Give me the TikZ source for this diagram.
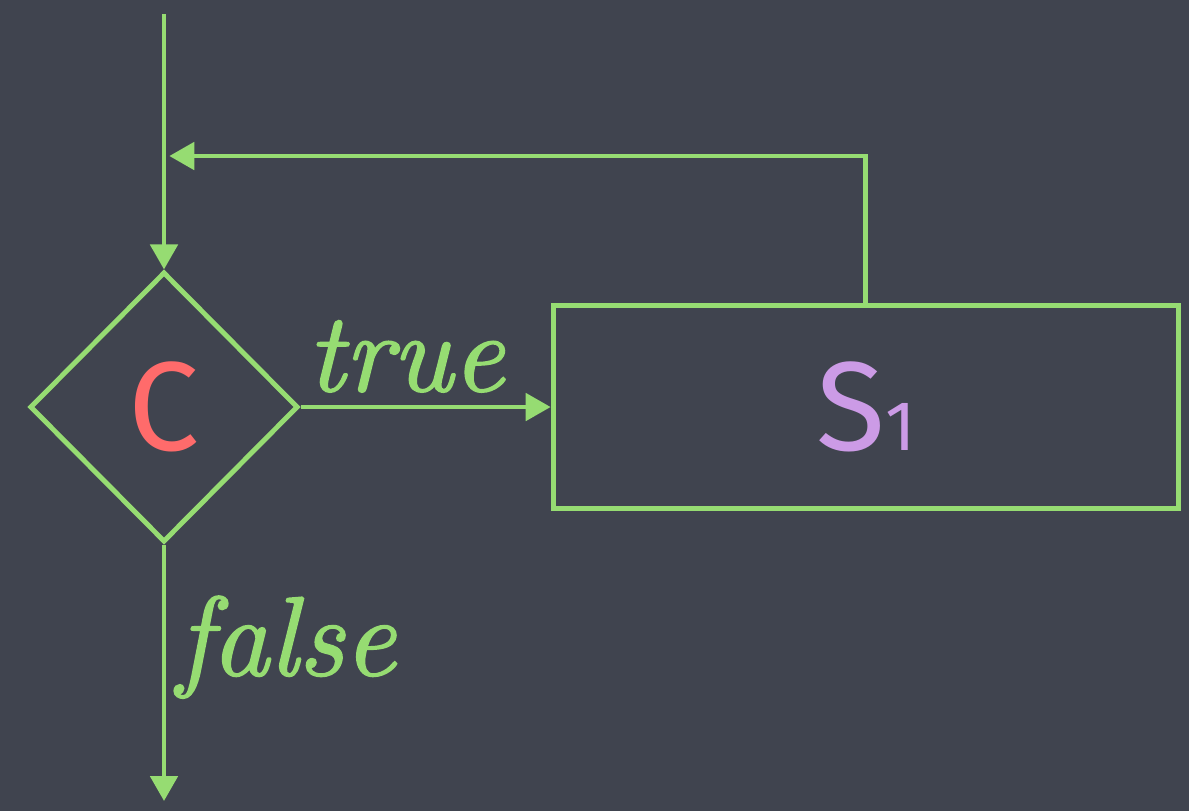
\documentclass[tikz,border=0pt]{standalone}
\usepackage{fontspec}
\newfontfamily\chalkfont{Fira Sans}
\newfontfamily\labelfont[FakeBold=1.4]{lmroman10-italic.otf}
\usetikzlibrary{arrows.meta,positioning,shapes.geometric}
\definecolor{board}{HTML}{40444F}
\definecolor{chalkgreen}{HTML}{96DC72}
\definecolor{chalkred}{HTML}{FF6B6B}
\definecolor{chalkviolet}{HTML}{CC9BE6}

\begin{document}
\begin{tikzpicture}[
    x=0.01cm, y=-0.01cm,
    flow/.style={draw=chalkgreen, line width=1.4pt},
    test/.style={flow, diamond, aspect=1, minimum width=2.68cm, minimum height=2.70cm, inner sep=0pt},
    stmt/.style={flow, rectangle, minimum width=6.25cm, minimum height=2.03cm, inner sep=0pt},
    arrow/.style={-{Triangle[length=2.5mm, width=2.7mm]}, draw=chalkgreen, line width=1.4pt},
    lbl/.style={text=chalkgreen, font=\labelfont\fontsize{32}{38}\selectfont},
    chalk/.style={font=\chalkfont\fontsize{36}{40}\selectfont}
  ]
    \fill[board] (0,0) rectangle (1189,811);
    \node[test] (cond) at (164,407) {};
    \node[chalk, text=chalkred] (condtext) at (cond.center) {C};
    \node[stmt, right=2.50cm of cond.east, anchor=west] (body) {};
    \node[chalk, text=chalkviolet] (bodytext) at (body.center) {S{\fontsize{20}{22}\selectfont 1}};
    \coordinate (entry) at (164,14);
    \coordinate (exit) at (164,801);
    \coordinate (corner) at (body.north |- 0,156);
    \coordinate (join) at (entry |- corner);
    \draw[arrow] (entry) -- (cond.north);
    \draw[arrow] (cond.east) -- node[lbl, above, pos=0.42, inner sep=3.5pt] (truelbl) {true} (body.west);
    \draw[arrow] (body.north) -- (corner) -- ([xshift=1.5pt]join);
    \draw[arrow] (cond.south) -- node[lbl, right, pos=0.4, inner sep=3pt] (falselbl) {false} (exit);
  \end{tikzpicture}
\end{document}
